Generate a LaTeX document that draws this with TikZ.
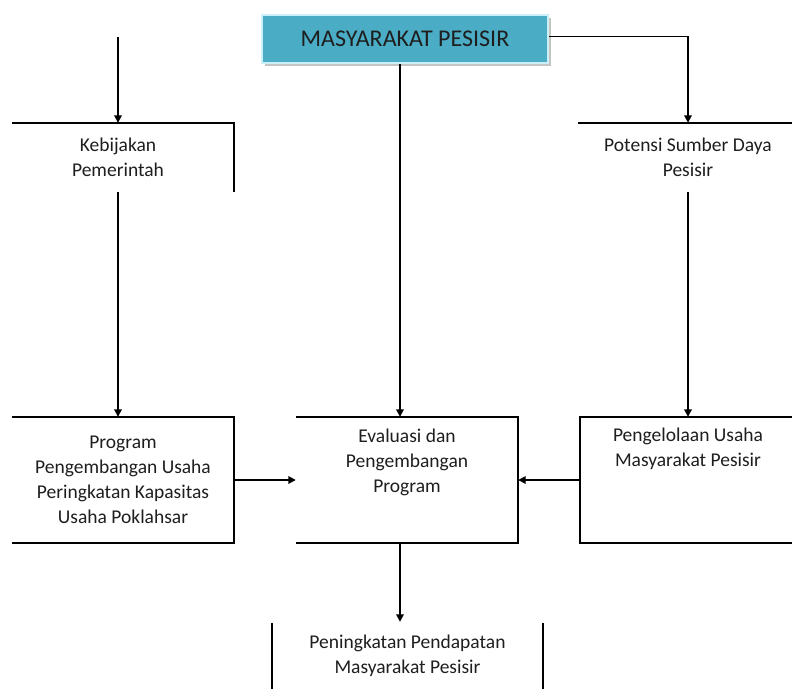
\documentclass[tikz,border=0pt]{standalone}
\usepackage{fontspec}
\setmainfont{Carlito}
\usepackage{tikz}
\usetikzlibrary{positioning}
\usetikzlibrary{arrows.meta}
\usetikzlibrary{shadows}
\definecolor{seablue}{RGB}{75,172,198}
\definecolor{seaedge}{RGB}{205,240,248}
\definecolor{textgrey}{RGB}{30,30,30}
\newcommand{\widthbox}{222pt}
\newcommand{\heightbox}{126pt}
\newcommand{\heightsmall}{69pt}
\tikzset{
    frame/.style={rectangle, inner sep=0pt, minimum width=\widthbox},
    caption/.style={align=center, inner sep=0pt, text=textgrey, font=\fontsize{19.5}{25}\selectfont},
    edge/.style={draw, line width=1.8pt},
    flow/.style={edge, -{Triangle[length=7.5pt, width=7.5pt]}},
    head/.style={rectangle, fill=seablue, draw=seaedge, line width=2pt, inner sep=0pt,
        minimum width=286pt, minimum height=48pt, text=textgrey, font=\fontsize{24}{26}\selectfont,
        drop shadow={shadow xshift=3pt, shadow yshift=-3pt, fill=black!45}}
}
\begin{document}
\begin{tikzpicture}[x=1pt, y=-1pt]
    \useasboundingbox (0,0) rectangle (792,689);
    \coordinate (spine) at (400,0);
    \coordinate (policyline) at (118,37);

    \node[head] (masyarakat) at (405,38.5) {MASYARAKAT PESISIR};

    \node[frame, minimum height=\heightsmall] (kebijakan) at (123,157.5) {};
    \node[frame, minimum width=220pt, minimum height=\heightsmall] (potensi) at (688,157.5) {};
    \node[frame, minimum height=\heightbox] (program) at (123,480) {};
    \node[frame, minimum height=\heightbox] (evaluasi) at (407,480) {};
    \node[frame, minimum width=216pt, minimum height=\heightbox] (pengelolaan) at (688,480) {};
    \node[frame, minimum width=271pt, minimum height=66pt] (peningkatan) at (407.5,656) {};

    \node[caption] (kebijakan-text) at (policyline |- kebijakan) {Kebijakan\\Pemerintah};
    \node[caption] (potensi-text) at (potensi) {Potensi Sumber Daya\\Pesisir};
    \node[caption] (program-text) at (program) {Program\\Pengembangan Usaha\\Peringkatan Kapasitas\\Usaha Poklahsar};
    \node[caption, below=12pt of evaluasi.north] (evaluasi-text) {Evaluasi dan\\Pengembangan\\Program};
    \node[caption, below=11pt of pengelolaan.north] (pengelolaan-text) {Pengelolaan Usaha\\Masyarakat Pesisir};
    \node[caption] (peningkatan-text) at (peningkatan) {Peningkatan Pendapatan\\Masyarakat Pesisir};

    \draw[edge] (kebijakan.north west) -- (kebijakan.north east) -- (kebijakan.south east);
    \draw[edge] (potensi.north west) -- (potensi.north east);
    \draw[edge] (program.north west) -- (program.north east) -- (program.south east) -- (program.south west);
    \draw[edge] (evaluasi.north west) -- (evaluasi.north east) -- (evaluasi.south east) -- (evaluasi.south west);
    \draw[edge] (pengelolaan.north east) -- (pengelolaan.north west) -- (pengelolaan.south west) -- (pengelolaan.south east);
    \draw[edge] (peningkatan.north west) -- (peningkatan.south west)
        (peningkatan.north east) -- (peningkatan.south east);

    \draw[flow] ([yshift=2pt]masyarakat.east) -| (potensi.north);
    \draw[flow] (policyline) -- (policyline |- kebijakan.north);
    \draw[flow] (policyline |- kebijakan.south) -- (policyline |- program.north);
    \draw[flow] (masyarakat.south -| spine) -- (evaluasi.north -| spine);
    \draw[flow] (potensi.south) -- (pengelolaan.north);
    \draw[flow] (program.east) -- (evaluasi.west);
    \draw[flow] (pengelolaan.west) -- (evaluasi.east);
    \draw[flow] (evaluasi.south -| spine) -- ([yshift=1pt]peningkatan.north -| spine);
\end{tikzpicture}
\end{document}
